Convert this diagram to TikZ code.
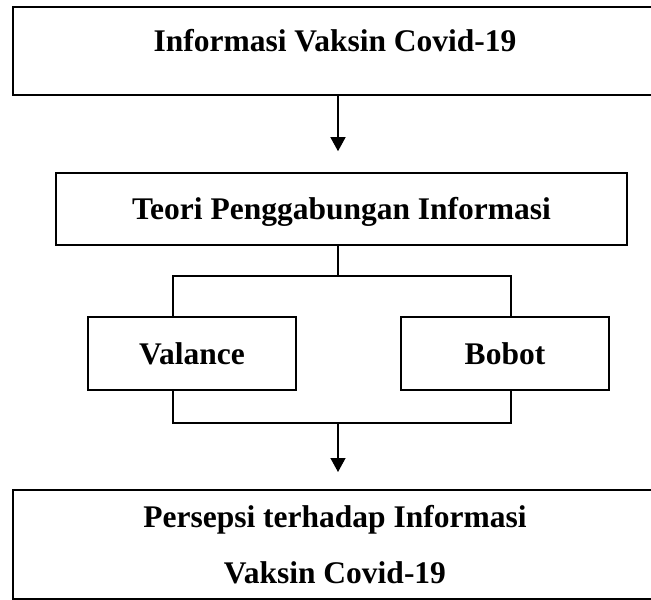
\documentclass[tikz,border=0pt]{standalone}
\usepackage{fontspec}
\setmainfont{Liberation Serif}
\usetikzlibrary{arrows.meta}
\begin{document}
\begin{tikzpicture}[x=1pt,y=-1pt,
  txt/.style={font=\bfseries\fontsize{31.5}{56}\selectfont},
  box/.style={draw, txt, inner sep=0pt, line width=1.3pt, text height=21pt, text depth=0pt},
  bigbox/.style={box, line width=2pt},
  conn/.style={line width=1.3pt},
  arr/.style={conn, -{Triangle[width=15pt,length=14pt]}},
  ]
\useasboundingbox (0,0) rectangle (651,600);
\clip (0,0) rectangle (651,600);
% boxes
\node[bigbox, minimum width=644pt, minimum height=88pt, text height=44pt, text depth=44pt] (info) at (335,51) {Informasi Vaksin Covid-19};
\node[box, line width=1.6pt, minimum width=571pt, minimum height=72pt] (teori) at (341.5,209) {Teori Penggabungan Informasi};
\node[box, minimum width=208pt, minimum height=73pt] (val) at (192,353.5) {Valance};
\node[box, minimum width=208pt, minimum height=73pt] (bob) at (505,353.5) {Bobot};
\node[bigbox, align=center, minimum width=644pt, minimum height=109pt, text height=77pt, text depth=0pt] (pers) at (335,544.5) {Persepsi terhadap Informasi\\Vaksin Covid-19};
% connectors
\coordinate (trunk) at (338,0);
\coordinate (jl) at (173,276);
\coordinate (jr) at (511,276);
\coordinate (kl) at (173,423);
\coordinate (kr) at (511,423);
\draw[arr] (info.south -| trunk) -- ([yshift=21pt]teori.north -| trunk);
\draw[conn] (teori.south -| trunk) -- (trunk |- jl);
\draw[conn] (jl |- val.north) -- (jl) -- (jr) -- (jr |- bob.north);
\draw[conn] (jl |- val.south) -- (kl) -- (kr) -- (jr |- bob.south);
\draw[arr] (trunk |- kl) -- ([yshift=17pt]pers.north -| trunk);
\end{tikzpicture}
\end{document}
